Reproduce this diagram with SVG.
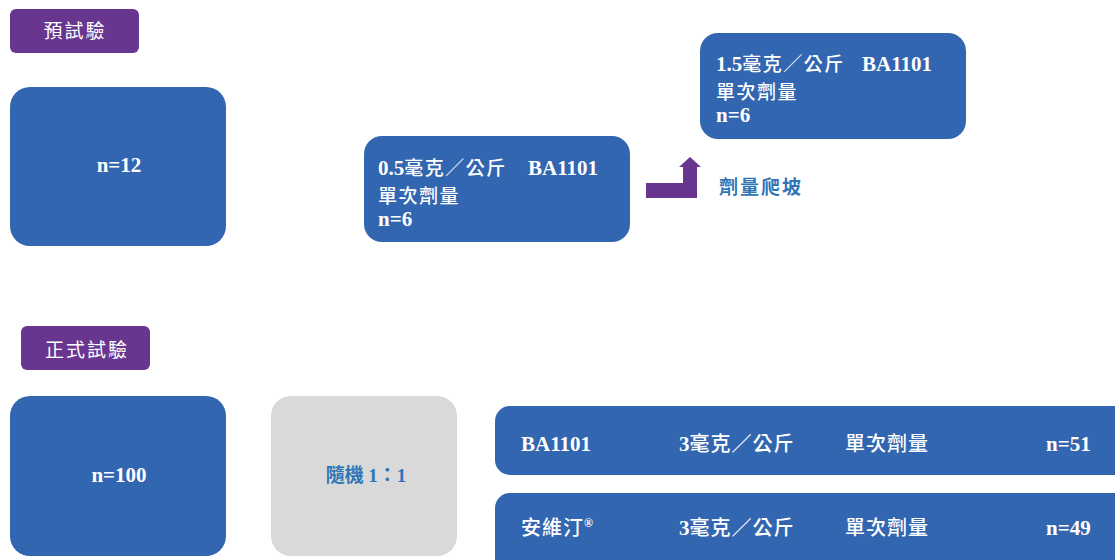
<svg xmlns="http://www.w3.org/2000/svg" width="1115" height="560" viewBox="0 0 1115 560">
<style>
.blue{fill:#3266B0}
.purple{fill:#68358F}
.gray{fill:#D9D9D9}
.lbl{fill:#fff;font-family:"Noto Sans CJK TC","Noto Sans CJK SC",sans-serif;font-size:19px;letter-spacing:2px}
.t{fill:#fff;font-family:"Liberation Serif","Noto Sans CJK TC",serif;font-weight:bold;font-size:21px}
.cj{font-family:"Noto Sans CJK TC","Noto Sans CJK SC",sans-serif;font-weight:500;font-size:19px;letter-spacing:1.5px}
.r{fill:#fff;font-family:"Liberation Serif","Noto Sans CJK TC",serif;font-weight:bold;font-size:21px}
.r .cj{font-size:20px;letter-spacing:1px}
.bt{fill:#2E75B6;font-family:"Noto Sans CJK TC","Noto Sans CJK SC",sans-serif;font-weight:bold;font-size:19px}
</style>
<rect width="1115" height="560" fill="#fff"/>
<g id="label-pre">
<rect class="purple" x="10" y="9" width="129" height="44" rx="6"/>
<text class="lbl" x="75" y="38" text-anchor="middle">預試驗</text>
</g>
<g id="node-n12">
<rect class="blue" x="10" y="87" width="216" height="159" rx="20"/>
<text class="t" x="119" y="172" text-anchor="middle">n=12</text>
</g>
<g id="node-05">
<rect class="blue" x="364" y="136" width="266" height="106" rx="18"/>
<text class="t" x="378" y="175">0.5<tspan class="cj">毫克／公斤</tspan><tspan x="528">BA1101</tspan></text>
<text class="t" x="378" y="203"><tspan class="cj">單次劑量</tspan></text>
<text class="t" x="378" y="226">n=6</text>
</g>
<g id="node-15">
<rect class="blue" x="700" y="33" width="266" height="106" rx="18"/>
<text class="t" x="716" y="71">1.5<tspan class="cj">毫克／公斤</tspan><tspan x="862">BA1101</tspan></text>
<text class="t" x="716" y="99"><tspan class="cj">單次劑量</tspan></text>
<text class="t" x="716" y="122">n=6</text>
</g>
<g id="connectors">
<path class="purple" d="M646,183 H683 V167 H679 L690,157 L701,167 H697 V198 H646 Z"/>
</g>
<g id="label-escalation">
<text class="bt" x="719" y="194" letter-spacing="2">劑量爬坡</text>
</g>
<g id="label-main">
<rect class="purple" x="21" y="326" width="129" height="44" rx="6"/>
<text class="lbl" x="87" y="357" text-anchor="middle">正式試驗</text>
</g>
<g id="node-n100">
<rect class="blue" x="10" y="396" width="216" height="160" rx="20"/>
<text class="t" x="119" y="482" text-anchor="middle">n=100</text>
</g>
<g id="node-random">
<rect class="gray" x="271" y="396" width="186" height="160" rx="20"/>
<text class="bt" x="366" y="482" text-anchor="middle" font-size="21">隨機 <tspan font-family="Liberation Serif,serif">1</tspan>：<tspan font-family="Liberation Serif,serif">1</tspan></text>
</g>
<g id="node-ba1101">
<rect class="blue" x="495" y="406" width="640" height="69" rx="15"/>
<text class="r" x="521" y="451">BA1101</text>
<text class="r" x="679" y="451">3<tspan class="cj">毫克／公斤</tspan></text>
<text class="r" x="845" y="451"><tspan class="cj">單次劑量</tspan></text>
<text class="r" x="1046" y="451">n=51</text>
</g>
<g id="node-avastin">
<rect class="blue" x="495" y="493" width="640" height="90" rx="15"/>
<text class="r" x="521" y="535"><tspan class="cj">安維汀</tspan><tspan font-size="12" dy="-8">®</tspan></text>
<text class="r" x="679" y="535">3<tspan class="cj">毫克／公斤</tspan></text>
<text class="r" x="845" y="535"><tspan class="cj">單次劑量</tspan></text>
<text class="r" x="1046" y="535">n=49</text>
</g>
</svg>
